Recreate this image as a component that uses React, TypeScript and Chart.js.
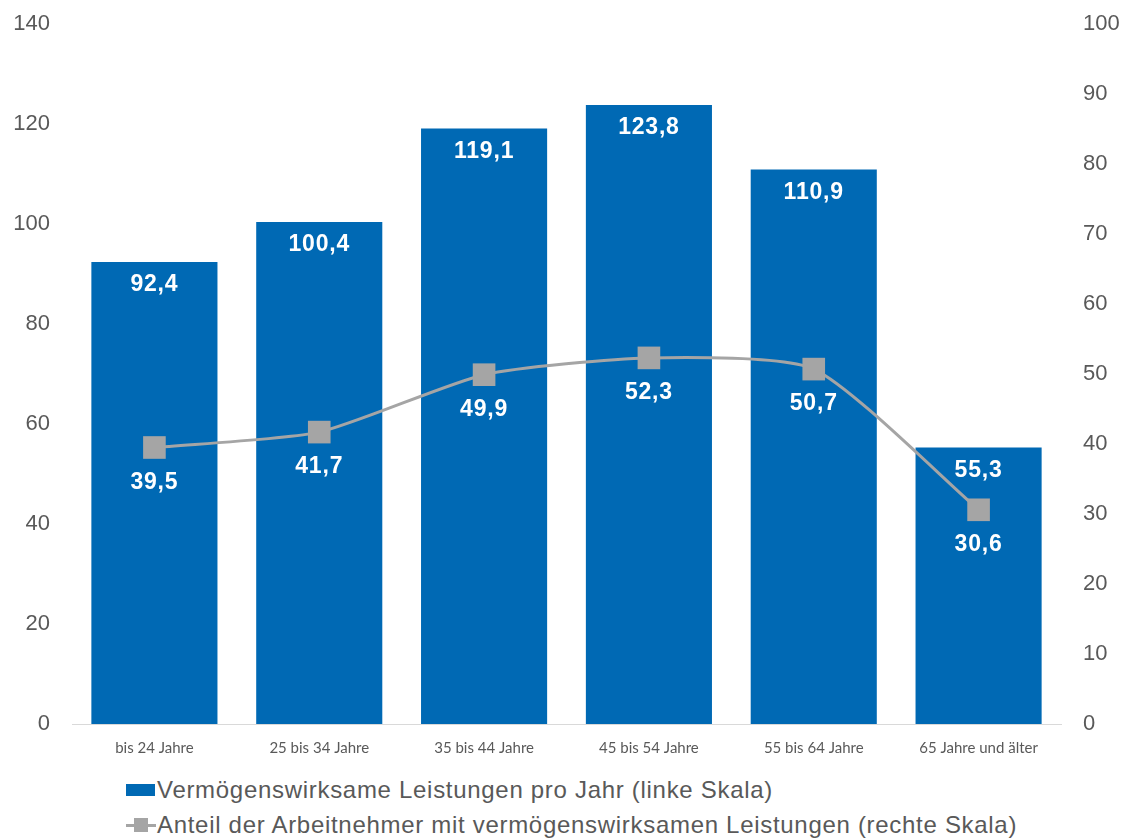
import React, { useEffect, useRef } from 'react';
import { Chart, registerables } from 'chart.js';

Chart.register(...registerables);

const categories = [
  'bis 24 Jahre',
  '25 bis 34 Jahre',
  '35 bis 44 Jahre',
  '45 bis 54 Jahre',
  '55 bis 64 Jahre',
  '65 Jahre und älter',
];
const leistungen = [92.4, 100.4, 119.1, 123.8, 110.9, 55.3];
const anteil = [39.5, 41.7, 49.9, 52.3, 50.7, 30.6];
const leftAxis = { min: 0, max: 140, step: 20 };
const rightAxis = { min: 0, max: 100, step: 10 };
const legendLabels = [
  'Vermögenswirksame Leistungen pro Jahr (linke Skala)',
  'Anteil der Arbeitnehmer mit vermögenswirksamen Leistungen (rechte Skala)',
];

const BLUE = '#0069b4';
const GRAY = '#a5a5a5';
const TEXT = '#595959';
const ARIAL = '"Liberation Sans", Arial, sans-serif';

const fmt = (v: number) => v.toFixed(1).replace('.', ',');

const labelPlugin = {
  id: 'valueLabels',
  afterDatasetsDraw(chart: any) {
    const ctx = chart.ctx;
    ctx.save();
    ctx.fillStyle = '#ffffff';
    ctx.font = `bold 23px ${ARIAL}`;
    try {
      (ctx as any).letterSpacing = '0.8px';
    } catch (e) {}
    ctx.textAlign = 'center';
    ctx.textBaseline = 'middle';
    chart.getDatasetMeta(1).data.forEach((el: any, i: number) => {
      ctx.fillText(fmt(leistungen[i]), el.x, el.y + 23);
    });
    chart.getDatasetMeta(0).data.forEach((el: any, i: number) => {
      ctx.fillText(fmt(anteil[i]), el.x, el.y + 35);
    });
    ctx.restore();
  },
};

const noPad = (s: any) => {
  s.paddingTop = 0;
  s.paddingBottom = 0;
};

export default function App() {
  const ref = useRef<HTMLCanvasElement | null>(null);

  useEffect(() => {
    if (!ref.current) return;
    const chart = new Chart(ref.current, {
      type: 'bar',
      data: {
        labels: categories,
        datasets: [
          {
            type: 'line',
            label: legendLabels[1],
            data: anteil,
            yAxisID: 'y1',
            borderColor: GRAY,
            backgroundColor: GRAY,
            borderWidth: 3,
            tension: 0.2,
            pointStyle: 'rect',
            pointRadius: 16,
            pointHoverRadius: 16,
            pointBorderWidth: 0,
            pointBackgroundColor: GRAY,
            order: 0,
          } as any,
          {
            type: 'bar',
            label: legendLabels[0],
            data: leistungen,
            yAxisID: 'y',
            backgroundColor: BLUE,
            borderWidth: 0,
            barPercentage: 0.765,
            categoryPercentage: 1,
            order: 1,
          },
        ],
      },
      options: {
        animation: false,
        responsive: false,
        maintainAspectRatio: false,
        layout: { padding: { top: 14, bottom: 0, left: 0, right: 0 } },
        plugins: {
          legend: { display: false },
          tooltip: { enabled: false },
        },
        scales: {
          x: {
            grid: { display: false, drawTicks: false },
            border: { display: true, color: '#d9d9d9', width: 1 },
            ticks: {
              color: TEXT,
              font: { family: 'Lato, "Open Sans", sans-serif', size: 15 },
              padding: 15,
              maxRotation: 0,
              autoSkip: false,
            },
            afterFit: (s: any) => {
              s.height = 34;
            },
          },
          y: {
            position: 'left',
            min: leftAxis.min,
            max: leftAxis.max,
            grid: { display: false, drawTicks: false },
            border: { display: false },
            ticks: {
              stepSize: leftAxis.step,
              color: TEXT,
              font: { family: ARIAL, size: 22 },
              padding: 22,
            },
            afterFit: (s: any) => {
              s.width = 64;
              noPad(s);
            },
          },
          y1: {
            position: 'right',
            min: rightAxis.min,
            max: rightAxis.max,
            grid: { display: false, drawTicks: false },
            border: { display: false },
            ticks: {
              stepSize: rightAxis.step,
              color: TEXT,
              font: { family: ARIAL, size: 22 },
              padding: 22,
            },
            afterFit: (s: any) => {
              s.width = 59;
              noPad(s);
            },
          },
        },
      },
      plugins: [labelPlugin],
    });
    return () => chart.destroy();
  }, []);

  const legendText: React.CSSProperties = {
    fontFamily: ARIAL,
    fontSize: 24,
    color: TEXT,
    letterSpacing: '0.7px',
    whiteSpace: 'nowrap',
    lineHeight: '28px',
  };

  return (
    <div style={{ position: 'relative', width: 1112, height: 830 }}>
      <canvas ref={ref} width={1112} height={750} style={{ display: 'block' }} />
      <div
        style={{
          position: 'absolute',
          left: 118,
          top: 768,
          display: 'flex',
          alignItems: 'center',
        }}
      >
        <span style={{ display: 'inline-block', width: 29, height: 12, background: BLUE, marginRight: 2 }} />
        <span style={legendText}>{legendLabels[0]}</span>
      </div>
      <div
        style={{
          position: 'absolute',
          left: 118,
          top: 803,
          display: 'flex',
          alignItems: 'center',
        }}
      >
        <span style={{ position: 'relative', display: 'inline-block', width: 30, height: 14, marginRight: 1 }}>
          <span style={{ position: 'absolute', left: 0, top: 6, width: 30, height: 3, background: GRAY }} />
          <span style={{ position: 'absolute', left: 8, top: 0, width: 14, height: 14, background: GRAY }} />
        </span>
        <span style={legendText}>{legendLabels[1]}</span>
      </div>
    </div>
  );
}
